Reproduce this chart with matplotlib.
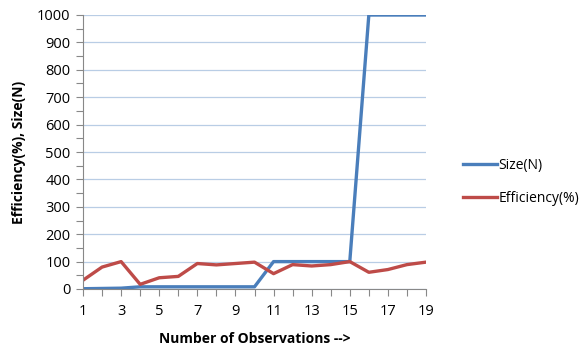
import numpy as np
import matplotlib.pyplot as plt
from matplotlib.ticker import MultipleLocator, FixedLocator

plt.rcParams['font.family'] = ['Open Sans', 'DejaVu Sans']

observations = np.arange(1, 20)
size_n = [1, 2, 3, 8, 8, 8, 8, 8, 8, 8, 100, 100, 100, 100, 100,
          1000, 1000, 1000, 1000]
efficiency = [32, 80, 100, 17, 41, 46, 93, 88, 93, 98, 56, 89, 84, 89, 100,
              61, 71, 89, 98]
x_ticks = list(range(1, 20, 2))

fig = plt.figure(figsize=(5.87, 3.48), dpi=100)
ax = fig.add_axes([83 / 587, 1 - 289 / 348, (426 - 83) / 587, (289 - 15) / 348])

ax.plot(observations, size_n, color='#4a7ebb', lw=2.4, label='Size(N)')
ax.plot(observations, efficiency, color='#be4b48', lw=2.4, label='Efficiency(%)')

ax.set_xlim(1, 19)
ax.set_ylim(0, 1000)
ax.xaxis.set_major_locator(FixedLocator(x_ticks))
ax.xaxis.set_minor_locator(MultipleLocator(1))
ax.yaxis.set_major_locator(MultipleLocator(100))
ax.yaxis.set_minor_locator(MultipleLocator(50))

ax.grid(axis='y', which='major', color='#b9cde5', lw=0.9)
ax.set_axisbelow(True)
for side in ['top', 'right']:
    ax.spines[side].set_visible(False)
for side in ['left', 'bottom']:
    ax.spines[side].set_color('#888888')
    ax.spines[side].set_linewidth(0.8)

ax.tick_params(which='both', direction='out', color='#888888', width=0.8)
ax.tick_params(which='major', length=5, labelsize=10.5, pad=4)
ax.tick_params(which='minor', length=5)
ax.tick_params(axis='x', pad=6)

ax.set_xlabel('Number of Observations -->', fontsize=10, fontweight='bold', labelpad=9)
ax.set_ylabel('Efficiency(%), Size(N)', fontsize=10, fontweight='bold', labelpad=8)

fig.legend(loc='center left', bbox_to_anchor=(450 / 587, 1 - 182 / 348),
           frameon=False, fontsize=10, handlelength=2.5, handletextpad=0.1,
           labelspacing=1.3)

fig.savefig('out.png', dpi=100)
